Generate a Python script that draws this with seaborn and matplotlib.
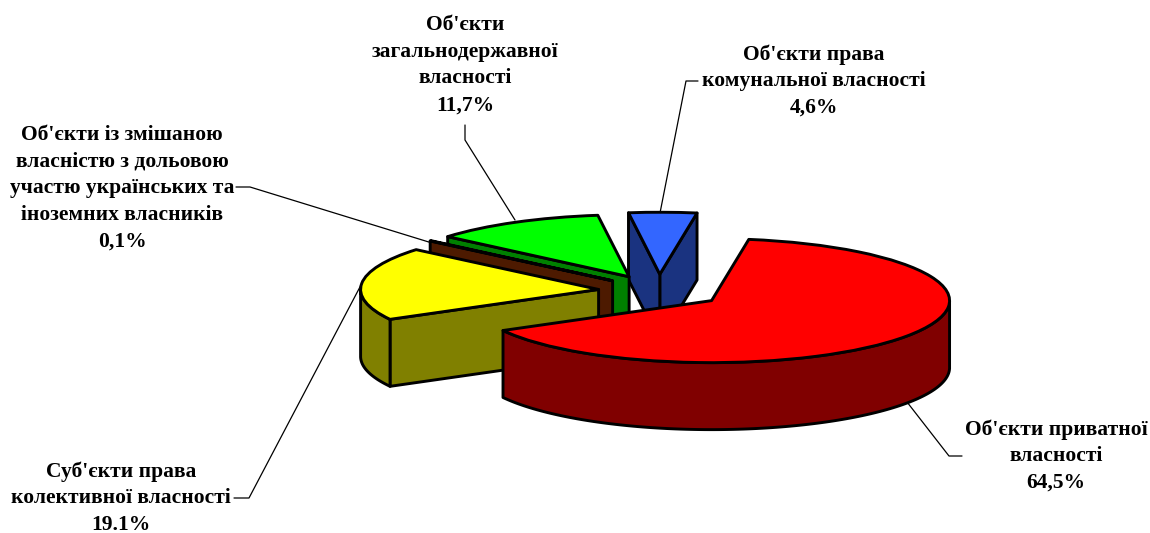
import numpy as np
import matplotlib
matplotlib.use('Agg')
import matplotlib.pyplot as plt
import seaborn as sns

# Exploded 3D style pie, drawn from plain pie wedges plus extruded walls

# Data
shares = [64.5, 19.1, 0.1, 11.7, 4.6]
explode = [0.27, 0.255, 0.255, 0.262, 0.27]
names = ["Об'єкти приватної\nвласності",
         "Суб'єкти права\nколективної власності",
         "Об'єкти із змішаною\nвласністю з дольовою\nучастю українських та\nіноземних власників",
         "Об'єкти\nзагальнодержавної\nвласності",
         "Об'єкти права\nкомунальної власності"]
value_labels = ['64,5%', '19.1%', '0,1%', '11,7%', '4,6%']
top_colors = ['#ff0000', '#ffff00', '#993300', '#00ff00', '#3366ff']
wall_colors = ['#800000', '#808000', '#4d1a00', '#008000', '#1a3380']

W, H = 1150, 533
RX, RY, DEPTH = 238, 62, 67      # pixels
CX, CY = 659, 291
EDGE = 2.1

sns.set_theme(style='white', rc={'axes.facecolor': 'white', 'figure.facecolor': 'white'})
plt.rcParams['font.family'] = ['Liberation Serif', 'DejaVu Serif']

fig = plt.figure(figsize=(W / 100, H / 100), dpi=100)
ax = fig.add_axes([0, 0, 1, 1])

wedges, _ = ax.pie(shares, colors=top_colors, startangle=81, counterclock=False,
                   explode=explode, radius=1,
                   wedgeprops=dict(edgecolor='black', linewidth=EDGE, joinstyle='round'))
ax.set_aspect('auto')
ax.set_xlim(-CX / RX, (W - CX) / RX)
ax.set_ylim(-(H - CY) / RY, CY / RY)
ax.axis('off')
d = DEPTH / RY


def rim(w, a):
    t = np.deg2rad(a)
    return w.center[0] + np.cos(t), w.center[1] + np.sin(t)


def wall(xs, ys, color, z):
    xs = list(xs)
    ys = list(ys)
    px = xs + xs[::-1]
    py = ys + [v - d for v in ys[::-1]]
    ax.fill(px, py, facecolor=color, edgecolor='black', linewidth=EDGE, zorder=z, joinstyle='round')


# back slices first, so that the front ones cover them
mids = [(w.theta1 + w.theta2) / 2 for w in wedges]
order = np.argsort([-np.sin(np.deg2rad(m)) for m in mids])
for rank, i in enumerate(order):
    w, c = wedges[i], wall_colors[i]
    z = 3 + rank * 3
    cx, cy = w.center
    # cut faces: walls along the radial edges that look to the viewer
    x1, y1 = rim(w, w.theta1)
    x2, y2 = rim(w, w.theta2)
    if y1 > cy - 1e-9 or y2 > cy - 1e-9:
        for (x, y), a in (((x1, y1), w.theta1), ((x2, y2), w.theta2)):
            # the face is visible when the slice lies above it on screen
            other = w.theta2 if a == w.theta1 else w.theta1
            mx, my = rim(w, (a + other) / 2)
            side = (x - cx) * (my - cy) - (y - cy) * (mx - cx)
            normal_y = (x - cx) if side < 0 else -(x - cx)
            if normal_y < 0:
                wall([cx, x], [cy, y], c, z)
    # outer wall for the part of the rim at the front
    a = np.linspace(w.theta1, w.theta2, 200)
    s = np.sin(np.deg2rad(a))
    if (s < 0).any():
        a = a[s < 0]
        wall(cx + np.cos(np.deg2rad(a)), cy + np.sin(np.deg2rad(a)), c, z + 1)
    w.set_zorder(z + 2)


# labels and leader lines, pixel positions from the top left
def label(x, y, i):
    fig.text(x / W, 1 - y / H, names[i] + '\n' + value_labels[i], ha='center', va='center',
             fontsize=15.5, fontweight='bold', color='black', linespacing=1.45)


def leader(xs, ys):
    ax.plot(np.array(xs) / W, 1 - np.array(ys) / H, color='black', lw=0.9,
            transform=fig.transFigure, clip_on=False, zorder=1)


label(1056, 456, 0)
label(121, 498, 1)
label(122, 188, 2)
label(465, 65, 3)
label(814, 81, 4)

leader([907, 949, 962], [402, 456, 456])
leader([361, 249, 234], [285, 498, 498])
leader([432, 250, 236], [243, 187, 187])
leader([515, 465, 465], [220, 140, 125])
leader([660, 686, 698], [213, 81, 81])

fig.savefig('out.png', dpi=100)
